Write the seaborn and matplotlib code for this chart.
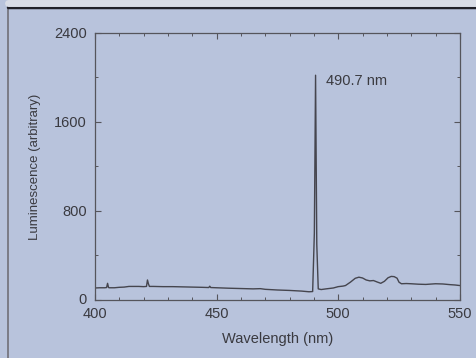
import matplotlib
matplotlib.use("Agg")
import matplotlib.pyplot as plt
import seaborn as sns
import pandas as pd
from matplotlib.lines import Line2D
from matplotlib.ticker import MultipleLocator
from matplotlib.transforms import ScaledTranslation

wavelength = [400, 402, 404, 404.8, 405.2, 405.6, 406, 408, 410, 412, 414, 416, 418, 420,
              421.2, 421.6, 422, 422.4, 424, 428, 432, 436, 440, 444, 446.8, 447.2, 447.6,
              450, 455, 460, 465, 468, 470, 475, 480, 485, 488, 489.5, 490.2, 490.7, 491.2,
              491.8, 493, 495, 498, 500, 502, 503, 505, 507, 508.5, 510, 511.5, 513, 514.5,
              516, 517.5, 519, 520.5, 521.8, 523, 524.2, 525, 526, 528, 530, 533, 536, 540,
              543, 546, 548, 550]
luminescence = [108, 110, 110, 112, 150, 112, 110, 110, 114, 116, 122, 122, 122, 120,
                122, 180, 145, 122, 122, 120, 120, 118, 116, 114, 112, 124, 112,
                110, 106, 103, 100, 102, 96, 90, 86, 80, 74, 76, 600, 2020, 500,
                100, 94, 100, 108, 120, 125, 130, 160, 195, 205, 198, 180, 172, 175,
                162, 150, 168, 200, 212, 210, 196, 160, 146, 148, 146, 142, 140, 146,
                144, 138, 135, 130]
peak_label = "490.7 nm"
x_ticks = [400, 450, 500, 550]
y_ticks = [0, 800, 1600, 2400]

df = pd.DataFrame({"Wavelength": wavelength, "Luminescence": luminescence})

sns.set_style("ticks")
plt.rcParams["font.family"] = ["Liberation Sans", "DejaVu Sans"]

bg = "#b8c3dc"
ink = "#3a3a40"

fig = plt.figure(figsize=(4.77, 3.58), dpi=100, facecolor=bg)
ax = fig.add_axes([0.199, 0.162, 0.765, 0.746])
ax.set_facecolor(bg)

sns.lineplot(data=df, x="Wavelength", y="Luminescence", ax=ax, color="#45454e",
             linewidth=1.0, sort=False)

ax.set_xlim(400, 550)
ax.set_ylim(0, 2400)
ax.set_xticks(x_ticks)
ax.set_yticks(y_ticks)
ax.xaxis.set_minor_locator(MultipleLocator(10))
ax.yaxis.set_minor_locator(MultipleLocator(400))
ax.tick_params(which="both", direction="in", top=True, right=True, colors="#55555c",
               labelcolor=ink, labelsize=10.5)
ax.tick_params(which="major", length=4, width=0.8)
ax.tick_params(which="minor", length=2.5, width=0.7)
ax.tick_params(axis="x", pad=5)
ax.tick_params(axis="y", pad=6)
for lab in ax.get_yticklabels():
    if lab.get_text() == "0":
        lab.set_transform(lab.get_transform() + ScaledTranslation(0, 2 / 100, fig.dpi_scale_trans))
for s in ax.spines.values():
    s.set_color("#55555c")
    s.set_linewidth(0.9)

ax.set_xlabel("Wavelength (nm)", fontsize=10.5, color=ink, labelpad=8)
ax.set_ylabel("Luminescence (arbitrary)", fontsize=9.5, color=ink, labelpad=9)

ax.text(495, 1965, peak_label, fontsize=10.5, color=ink, ha="left", va="center")

# scan edges
fig.add_artist(Line2D([8 / 477, 8 / 477], [0, 1 - 8 / 358], transform=fig.transFigure,
                      color="#707078", linewidth=1.2))
fig.add_artist(Line2D([8 / 477, 1], [1 - 7 / 358, 1 - 7 / 358], transform=fig.transFigure,
                      color="#202028", linewidth=2.5))
fig.add_artist(Line2D([8 / 477, 1], [1 - 3 / 358, 1 - 3 / 358], transform=fig.transFigure,
                      color="#d8dce6", linewidth=5))

fig.savefig("out.png", dpi=100, facecolor=bg)
